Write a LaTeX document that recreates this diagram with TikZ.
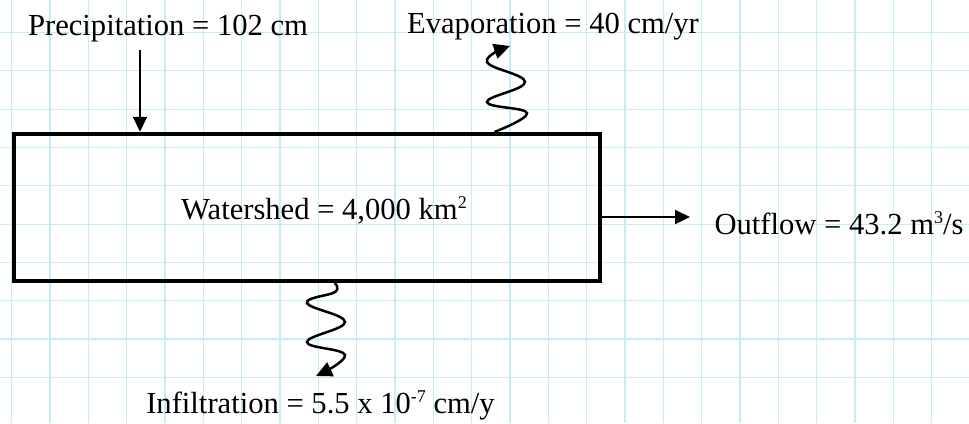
\documentclass[tikz,border=0pt]{standalone}
\usepackage{fontspec}
\setmainfont{Liberation Serif}
\usetikzlibrary{arrows.meta}
\newcommand{\mysup}[1]{\raisebox{11pt}{\fontsize{18}{18}\selectfont #1}}
\begin{document}
\begin{tikzpicture}[x=1pt,y=-1pt,
  gridline/.style={draw={rgb,255:red,198;green,236;blue,246}, line width=1.1pt},
  flow/.style={line width=2pt, -{Triangle[length=15pt,width=14pt]}},
  wave/.style={line width=2.5pt, line cap=round, -{Triangle[length=16pt,width=15pt]}},
  lbl/.style={font=\fontsize{30.6}{36}\selectfont, anchor=base, inner sep=0pt},
  boxstyle/.style={draw, line width=4.5pt, minimum width=586pt, minimum height=147pt, inner sep=0pt}]
\useasboundingbox (0,0) rectangle (969,423);
\fill[white] (0,0) rectangle (969,423);
\foreach \i in {0,...,25} \draw[gridline] ({11.7+38.33*\i},0) -- ({11.7+38.33*\i},423);
\foreach \j in {1,...,10} \draw[gridline] (0,{-5.7+38.3*\j}) -- (969,{-5.7+38.3*\j});

\node[boxstyle] (box) at (307,207.5) {};
\node[lbl] (ws) at (324,219) {Watershed = 4,000 km\mysup{2}};
\node[lbl] (pr) at (168,35) {Precipitation = 102 cm};
\node[lbl] (ev) at (553,33) {Evaporation = 40 cm/yr};
\node[lbl] (of) at (839,234) {Outflow = 43.2 m\mysup{3}/s};
\node[lbl] (inf) at (320.5,413) {Infiltration = 5.5 x 10\mysup{-7} cm/y};

% precipitation
\coordinate (ps) at (140,50);
\draw[flow] (ps) -- (ps |- box.north);
% outflow
\coordinate (oe) at (690,217);
\draw[flow] (box.east |- oe) -- (oe);
% evaporation
\coordinate (es) at (495,0);
\coordinate (et) at (510,46);
\draw[wave] plot[smooth, tension=0.7] coordinates {(box.north -| es) (527,113) (487,102) (525,82) (487,62) (et)};
% infiltration
\coordinate (is) at (335,0);
\coordinate (it) at (316,376);
\draw[wave] plot[smooth, tension=0.7] coordinates {(box.south -| is) (335,292) (307,303) (345,322) (307,342) (345,355) (it)};
\end{tikzpicture}
\end{document}
